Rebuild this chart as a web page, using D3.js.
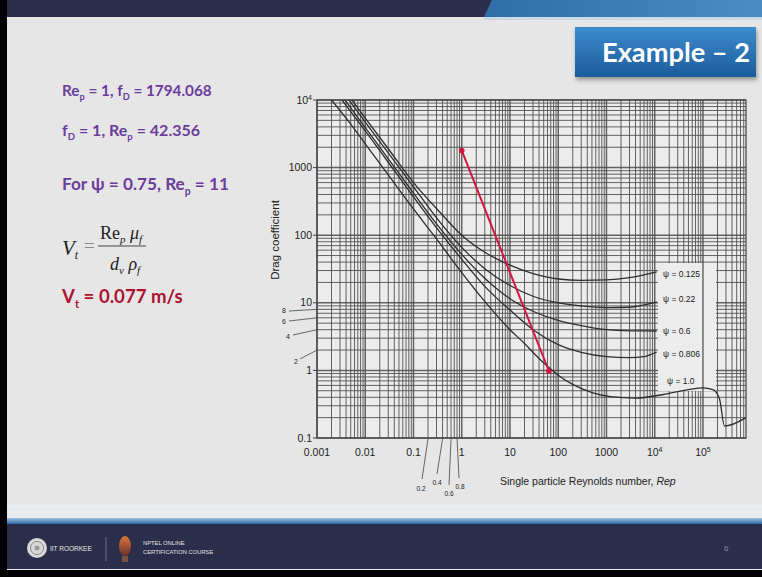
<!DOCTYPE html>
<html>
<head>
<meta charset="utf-8">
<script src="https://cdn.jsdelivr.net/npm/d3@7"></script>
<style>
  html, body { margin: 0; padding: 0; background: #000; }
  svg { display: block; }
</style>
</head>
<body>
<svg id="chart" width="762" height="577"></svg>
<script>
// ---------------- DATA ----------------
const xTickValues = [1e-3, 1e-2, 1e-1, 1, 10, 100, 1000, 1e4, 1e5];
const xTickLabels = ["0.001", "0.01", "0.1", "1", "10", "100", "1000", "10^4", "10^5"];
const yTickValues = [0.1, 1, 10, 100, 1000, 1e4];
const yTickLabels = ["0.1", "1", "10", "100", "1000", "10^4"];
const yMinorLabels = [8, 6, 4, 2];
const xMinorLabels = [0.2, 0.4, 0.6, 0.8];

const psiLabels = ["\u03C8 = 0.125", "\u03C8 = 0.22", "\u03C8 = 0.6", "\u03C8 = 0.806", "\u03C8 = 1.0"];

// [Re, Cd] pairs
const psi0125 = [[0.0053,10000],[0.01,5400],[0.03,1900],[0.1,600],[0.35,220],[1,100],[3,56],[10,36],[30,27],[100,22.5],[300,21.5],[1000,21.8],[3000,23.5],[11000,28.6]];
const psi022  = [[0.0046,10000],[0.01,4700],[0.03,1650],[0.1,520],[0.35,157],[1,66],[3,32],[10,18],[30,12.5],[100,10],[300,9],[1000,8.5],[3000,8.6],[11000,10.3]];
const psi06   = [[0.0038,10000],[0.01,3900],[0.03,1350],[0.1,420],[0.35,128],[1,52],[3,23],[10,11.5],[30,7.5],[100,5.5],[300,4.6],[1000,4.0],[3000,3.85],[11000,3.83]];
const psi0806 = [[0.0033,10000],[0.01,3500],[0.03,1200],[0.1,370],[0.35,112],[1,44],[3,17.5],[10,7.8],[30,4.0],[100,2.4],[300,1.85],[1000,1.6],[3000,1.55],[6000,1.6],[11000,1.87]];
const psi10   = [[0.002,10000],[0.005,4400],[0.01,2250],[0.03,780],[0.1,245],[0.3,88],[1,28],[3,10.5],[10,4.0],[20,2.5],[40,1.5],[64,1.1],[100,0.85],[200,0.62],[500,0.47],[1200,0.41],[4000,0.39],[15000,0.44],[50000,0.52],[100000,0.55],[160000,0.52],[220000,0.38],[280000,0.15],[780000,0.2]];

const redLine = [[1, 1794.068], [64, 0.98]];

// ---------------- DRAWING ----------------
const svg = d3.select("#chart");
const W = 762, H = 577;

// defs
const defs = svg.append("defs");
const g1 = defs.append("linearGradient").attr("id","boxGrad").attr("x1",0).attr("y1",0).attr("x2",0).attr("y2",1);
g1.append("stop").attr("offset","0%").attr("stop-color","#3d8bcc");
g1.append("stop").attr("offset","100%").attr("stop-color","#1c5d9c");
const g2 = defs.append("linearGradient").attr("id","topBlue").attr("x1",0).attr("y1",0).attr("x2",1).attr("y2",0);
g2.append("stop").attr("offset","0%").attr("stop-color","#2f6ea8");
g2.append("stop").attr("offset","100%").attr("stop-color","#4a8cc4");
const g3 = defs.append("linearGradient").attr("id","footLine").attr("x1",0).attr("y1",0).attr("x2",0).attr("y2",1);
g3.append("stop").attr("offset","0%").attr("stop-color","#9cc3e6");
g3.append("stop").attr("offset","100%").attr("stop-color","#2c6aa6");
const g4 = defs.append("linearGradient").attr("id","lamp").attr("x1",0).attr("y1",0).attr("x2",0).attr("y2",1);
g4.append("stop").attr("offset","0%").attr("stop-color","#d9783a");
g4.append("stop").attr("offset","100%").attr("stop-color","#6b2f2a");
defs.append("clipPath").attr("id","plotClip").append("rect")
  .attr("x",317).attr("y",100).attr("width",429).attr("height",338);
const sh = defs.append("filter").attr("id","shadow").attr("x","-10%").attr("y","-10%").attr("width","130%").attr("height","150%");
sh.append("feDropShadow").attr("dx",1).attr("dy",3).attr("stdDeviation",2).attr("flood-color","#000").attr("flood-opacity",0.35);

// slide background
svg.append("rect").attr("x",0).attr("y",0).attr("width",W).attr("height",H).attr("fill","#000");
svg.append("rect").attr("x",7).attr("y",0).attr("width",W-7).attr("height",570).attr("fill","#e6e6e7");
// top bar
svg.append("rect").attr("x",7).attr("y",0).attr("width",W-7).attr("height",17).attr("fill","#2c2e4c");
svg.append("path").attr("d","M492,0 L762,0 L762,17 L484,17 Z").attr("fill","url(#topBlue)");
svg.append("rect").attr("x",484).attr("y",17).attr("width",W-484).attr("height",3).attr("fill","#c8d9ea");

// title box
svg.append("rect").attr("x",575).attr("y",27).attr("width",181).attr("height",50)
  .attr("fill","url(#boxGrad)").attr("filter","url(#shadow)");
svg.append("text").attr("x",676).attr("y",62).attr("text-anchor","middle")
  .attr("font-family","Lato, 'Open Sans', sans-serif").attr("font-weight","bold")
  .attr("font-size",27).attr("fill","#fff").attr("textLength",148).attr("lengthAdjust","spacingAndGlyphs")
  .text("Example \u2013 2");

// footer
svg.append("rect").attr("x",7).attr("y",505).attr("width",W-7).attr("height",14).attr("fill","#e9ebed");
svg.append("rect").attr("x",7).attr("y",518).attr("width",W-7).attr("height",6).attr("fill","url(#footLine)");
svg.append("rect").attr("x",7).attr("y",524).attr("width",W-7).attr("height",45).attr("fill","#2b2e4b");
svg.append("circle").attr("cx",37).attr("cy",548).attr("r",10).attr("fill","#d9d9d9");
svg.append("circle").attr("cx",37).attr("cy",548).attr("r",6.5).attr("fill","none").attr("stroke","#8a8a8a").attr("stroke-width",1);
svg.append("circle").attr("cx",37).attr("cy",548).attr("r",2.5).attr("fill","#999");
svg.append("text").attr("x",50).attr("y",550.5).attr("font-family","'Liberation Sans', sans-serif")
  .attr("font-size",6.5).attr("fill","#e8e8e8").text("IIT ROORKEE");
svg.append("line").attr("x1",106).attr("x2",106).attr("y1",537).attr("y2",561).attr("stroke","#6a6d85").attr("stroke-width",1);
svg.append("ellipse").attr("cx",125).attr("cy",546).attr("rx",6).attr("ry",10).attr("fill","url(#lamp)");
svg.append("rect").attr("x",122).attr("y",556).attr("width",6).attr("height",6).attr("fill","#7a5040");
svg.append("text").attr("x",143).attr("y",545).attr("font-family","'Liberation Sans', sans-serif")
  .attr("font-size",5.8).attr("fill","#e0e0e0").text("NPTEL ONLINE");
svg.append("text").attr("x",143).attr("y",554).attr("font-family","'Liberation Sans', sans-serif")
  .attr("font-size",5.8).attr("fill","#e0e0e0").text("CERTIFICATION COURSE");
svg.append("text").attr("x",724).attr("y",551).attr("font-family","'Liberation Sans', sans-serif")
  .attr("font-size",8).attr("fill","#8a8c9e").text("6");

// ---------------- LEFT TEXT ----------------
const purple = "#6a3d9c";
const sansB = "Lato, 'Open Sans', sans-serif";
function richText(x, y, size, color, parts) {
  const t = svg.append("text").attr("x",x).attr("y",y).attr("font-family",sansB)
    .attr("font-weight","bold").attr("font-size",size).attr("fill",color);
  let shift = 0;
  parts.forEach(p => {
    const s = t.append("tspan").text(p.t);
    const target = p.sub ? size*0.28 : 0;
    if (target !== shift) { s.attr("dy", target - shift); shift = target; }
    if (p.sub) s.attr("font-size", size*0.6);
  });
  return t;
}
richText(62, 96, 15.3, purple, [{t:"Re"},{t:"p",sub:true},{t:" = 1, f"},{t:"D",sub:true},{t:" = 1794.068"}]);
richText(62, 136, 16, purple, [{t:"f"},{t:"D",sub:true},{t:" = 1, Re"},{t:"p",sub:true},{t:" = 42.356"}]);
richText(62, 190, 17.2, purple, [{t:"For \u03C8 = 0.75, Re"},{t:"p",sub:true},{t:" = 11"}]);
richText(62, 303, 18.6, "#ad1230", [{t:"V"},{t:"t",sub:true},{t:" = 0.077 m/s"}]);

// formula
const serif = "'Liberation Serif', 'DejaVu Serif', serif";
const fV = svg.append("text").attr("x",62).attr("y",255).attr("font-family",serif).attr("font-size",21).attr("fill","#222");
fV.append("tspan").attr("font-style","italic").text("V");
fV.append("tspan").attr("font-style","italic").attr("font-size",12).attr("dy",4).text("t");
svg.append("text").attr("x",84).attr("y",252).attr("font-family",serif).attr("font-size",19).attr("fill","#888").text("=");
const fN = svg.append("text").attr("x",100).attr("y",239).attr("font-family",serif).attr("font-size",18).attr("fill","#222");
fN.append("tspan").text("Re");
fN.append("tspan").attr("font-style","italic").attr("font-size",11).attr("dy",4).text("p");
fN.append("tspan").attr("font-style","italic").attr("dy",-4).text(" \u03BC");
fN.append("tspan").attr("font-style","italic").attr("font-size",11).attr("dy",4).text("f");
svg.append("line").attr("x1",98).attr("x2",146).attr("y1",246).attr("y2",246).attr("stroke","#444").attr("stroke-width",1);
const fD = svg.append("text").attr("x",110).attr("y",270).attr("font-family",serif).attr("font-size",18).attr("fill","#222");
fD.append("tspan").attr("font-style","italic").text("d");
fD.append("tspan").attr("font-style","italic").attr("font-size",11).attr("dy",4).text("v");
fD.append("tspan").attr("font-style","italic").attr("dy",-4).text(" \u03C1");
fD.append("tspan").attr("font-style","italic").attr("font-size",11).attr("dy",4).text("f");

// ---------------- CHART ----------------
const x = d3.scaleLog().domain([1e-3, 7.8e5]).range([317, 746]);
const y = d3.scaleLog().domain([0.1, 1e4]).range([438, 100]);
const chartFont = "'Liberation Sans', Arial, sans-serif";
const gridC = "#4a4a4a";

const plot = svg.append("g");
plot.append("rect").attr("x",317).attr("y",100).attr("width",429).attr("height",338).attr("fill","#ececec");

// grid
const xMinor = [], yMinor = [];
for (let d = -3; d <= 5; d++) for (let k = 1; k <= 9; k++) {
  const v = k * Math.pow(10, d);
  if (v >= 1e-3 && v <= 7.8e5) xMinor.push(v);
}
for (let d = -1; d <= 3; d++) for (let k = 1; k <= 9; k++) yMinor.push(k * Math.pow(10, d));
yMinor.push(1e4);

plot.append("g").selectAll("line").data(xMinor).join("line")
  .attr("x1", d => x(d)).attr("x2", d => x(d)).attr("y1",100).attr("y2",438)
  .attr("stroke", gridC).attr("stroke-width", d => xTickValues.includes(d) ? 1.5 : 1).attr("opacity",0.85);
plot.append("g").selectAll("line").data(yMinor).join("line")
  .attr("x1",317).attr("x2",746).attr("y1", d => y(d)).attr("y2", d => y(d))
  .attr("stroke", gridC).attr("stroke-width", d => yTickValues.includes(d) ? 1.5 : 1).attr("opacity",0.85);
plot.append("rect").attr("x",317).attr("y",100).attr("width",429).attr("height",338)
  .attr("fill","none").attr("stroke","#444").attr("stroke-width",1.2);

// label panel
plot.append("rect").attr("x",658).attr("y",263).attr("width",58).attr("height",128).attr("fill","#ececec");
plot.append("line").attr("x1",x(1e5)).attr("x2",x(1e5)).attr("y1",263).attr("y2",391).attr("stroke",gridC).attr("stroke-width",1.2);

// tick label helper: "10^4" -> 10 with superscript 4
function tickText(sel, label) {
  const parts = label.split("^");
  sel.append("tspan").text(parts[0]);
  if (parts[1]) sel.append("tspan").attr("font-size", 7).attr("dy", -4).text(parts[1]);
}

plot.append("g").selectAll("text").data(xTickValues).join("text")
  .attr("x", d => x(d)).attr("y", 456).attr("text-anchor","middle")
  .attr("font-family", chartFont).attr("font-size", 10.5).attr("fill","#222")
  .each(function(d,i){ tickText(d3.select(this), xTickLabels[i]); });
plot.append("g").selectAll("text").data(yTickValues).join("text")
  .attr("x", 312).attr("y", d => y(d) + 3.5).attr("text-anchor","end")
  .attr("font-family", chartFont).attr("font-size", 10.5).attr("fill","#222")
  .each(function(d,i){ tickText(d3.select(this), yTickLabels[i]); });
plot.append("g").selectAll("line").data(yTickValues).join("line")
  .attr("x1",313).attr("x2",317).attr("y1", d => y(d)).attr("y2", d => y(d)).attr("stroke","#444");

// minor y labels with leaders
const yMinorPos = {8:[284,313,289,311], 6:[284,324,289,321], 4:[288,339,293,335], 2:[296,364,300,359]};
yMinorLabels.forEach(v => {
  const p = yMinorPos[v];
  plot.append("line").attr("x1",p[2]).attr("y1",p[3]).attr("x2",317).attr("y2",y(v)).attr("stroke","#444").attr("stroke-width",0.8);
  plot.append("text").attr("x",p[0]).attr("y",p[1]).attr("text-anchor","middle")
    .attr("font-family",chartFont).attr("font-size",7).attr("fill","#222").text(v);
});
// minor x labels with leaders
const xMinorPos = {0.2:[421,491,422,479], 0.4:[437,485,437,474], 0.6:[449,496,449,485], 0.8:[460,489,459,478]};
xMinorLabels.forEach(v => {
  const p = xMinorPos[v];
  plot.append("line").attr("x1",x(v)).attr("y1",439).attr("x2",p[2]).attr("y2",p[3]).attr("stroke","#444").attr("stroke-width",0.8);
  plot.append("text").attr("x",p[0]).attr("y",p[1]).attr("text-anchor","middle")
    .attr("font-family",chartFont).attr("font-size",6.5).attr("fill","#222").text(v);
});

// axis titles
plot.append("text").attr("transform","translate(279,240) rotate(-90)").attr("text-anchor","middle")
  .attr("font-family",chartFont).attr("font-size",11.5).attr("fill","#222").text("Drag coefficient");
const xt = plot.append("text").attr("x",500).attr("y",485).attr("font-family",chartFont).attr("font-size",10.5).attr("fill","#222");
xt.append("tspan").text("Single particle Reynolds number, ");
xt.append("tspan").attr("font-style","italic").text("Rep");

// curves
const line = d3.line().x(d => x(d[0])).y(d => y(d[1])).curve(d3.curveMonotoneX);
const series = [psi0125, psi022, psi06, psi0806, psi10];
plot.append("g").attr("clip-path","url(#plotClip)").selectAll("path").data(series).join("path")
  .attr("d", line).attr("fill","none").attr("stroke","#2e2e2e").attr("stroke-width",1.3);

// psi labels
const labelPos = [[663,276.5],[663,301.5],[663,333.5],[663,356.5],[667,383.5]];
plot.append("g").selectAll("text").data(psiLabels).join("text")
  .attr("x",(d,i) => labelPos[i][0]).attr("y",(d,i) => labelPos[i][1])
  .attr("font-family",chartFont).attr("font-size",8.5).attr("fill","#222").text(d => d);

// red line
plot.append("path").attr("d", d3.line().x(d => x(d[0])).y(d => y(d[1]))(redLine))
  .attr("fill","none").attr("stroke","#d1173f").attr("stroke-width",2);
plot.append("g").selectAll("circle").data(redLine).join("circle")
  .attr("cx", d => x(d[0])).attr("cy", d => y(d[1])).attr("r",2.8).attr("fill","#d1173f");
</script>
</body>
</html>
